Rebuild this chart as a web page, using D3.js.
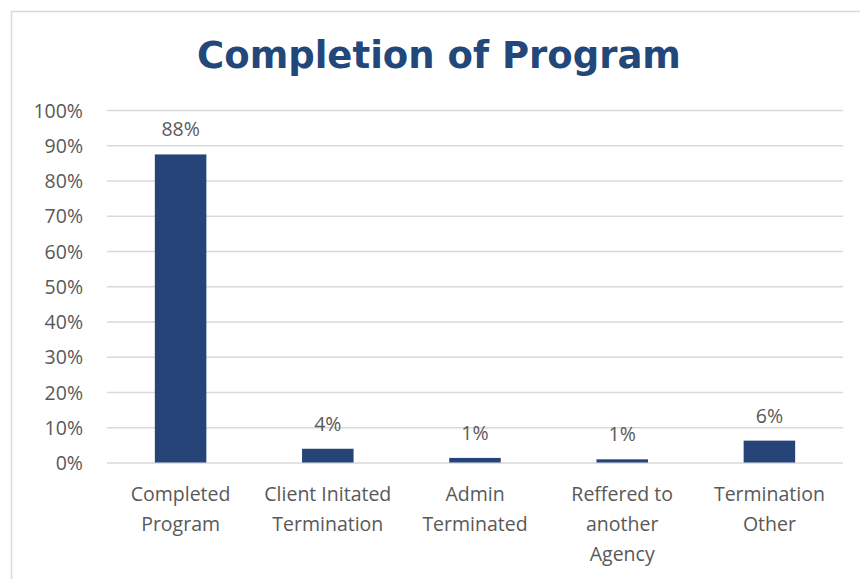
<!DOCTYPE html>
<html><head><meta charset="utf-8">
<script src="https://cdn.jsdelivr.net/npm/d3@7"></script>
<style>
html,body{margin:0;padding:0;background:#fff;}
svg{display:block;}
</style></head>
<body>
<svg id="chart" width="860" height="579"></svg>
<script>
const title = "Completion of Program";
const categories = ["Completed\nProgram", "Client Initated\nTermination", "Admin\nTerminated", "Reffered to\nanother\nAgency", "Termination\nOther"];
const values = [0.874, 0.039, 0.013, 0.009, 0.062];
const valueLabels = ["88%", "4%", "1%", "1%", "6%"];
const yTicks = [0, 0.1, 0.2, 0.3, 0.4, 0.5, 0.6, 0.7, 0.8, 0.9, 1.0];

const svg = d3.select("#chart");
const W = 860, H = 579;
const margin = {left: 107, right: 17, top: 110, bottom: 117};
const barColor = "#264478";
const textColor = "#595959";
const gridColor = "#d9d9d9";
const font = "'Open Sans', sans-serif";
const fs = 19.5;

// chart border
svg.append("path")
  .attr("d", `M11.5,${H} V11.5 H${W}`)
  .attr("fill", "none").attr("stroke", gridColor).attr("stroke-width", 1.5);

const x = d3.scaleBand().domain(categories).range([margin.left, W - margin.right]).paddingInner(0.65).paddingOuter(0.325);
const y = d3.scaleLinear().domain([0, 1]).range([H - margin.bottom + 0.5, margin.top]);

// title
svg.append("text")
  .attr("x", 439).attr("y", 68)
  .attr("text-anchor", "middle")
  .attr("font-family", "'DejaVu Sans', Verdana, sans-serif")
  .attr("font-weight", "bold")
  .attr("font-size", 37)
  .attr("fill", "#22477a")
  .text(title);

// y axis with gridlines
const yAxis = d3.axisLeft(y).tickValues(yTicks).tickFormat(d3.format(".0%"))
  .tickSize(-(W - margin.right - margin.left)).tickPadding(24);
const gy = svg.append("g").attr("transform", `translate(${margin.left},0)`).call(yAxis);
gy.select(".domain").remove();
gy.selectAll(".tick line").attr("stroke", gridColor).attr("stroke-width", 1.6);
gy.selectAll(".tick text").attr("font-family", font).attr("font-size", fs).attr("fill", textColor).attr("dy", "0.36em");

// x axis labels
const xAxis = d3.axisBottom(x).tickSize(0).tickFormat("");
const gx = svg.append("g").attr("transform", `translate(0,${y(0)})`).call(xAxis);
gx.select(".domain").remove();
gx.selectAll(".tick").each(function(d){
  const lines = d.split("\n");
  const t = d3.select(this).append("text")
    .attr("text-anchor", "middle")
    .attr("font-family", font).attr("font-size", fs).attr("fill", textColor);
  lines.forEach((ln, i) => {
    t.append("tspan").attr("x", 0).attr("y", 38 + i * 30).text(ln);
  });
});

// bars
svg.append("g").selectAll("rect").data(values).join("rect")
  .attr("x", (d, i) => x(categories[i]))
  .attr("y", d => y(d))
  .attr("width", x.bandwidth())
  .attr("height", d => y(0) - y(d))
  .attr("fill", barColor);

// data labels
svg.append("g").selectAll("text").data(values).join("text")
  .attr("x", (d, i) => x(categories[i]) + x.bandwidth() / 2)
  .attr("y", d => y(d) - 18)
  .attr("text-anchor", "middle")
  .attr("font-family", font).attr("font-size", fs).attr("fill", textColor)
  .text((d, i) => valueLabels[i]);
</script>
</body></html>
